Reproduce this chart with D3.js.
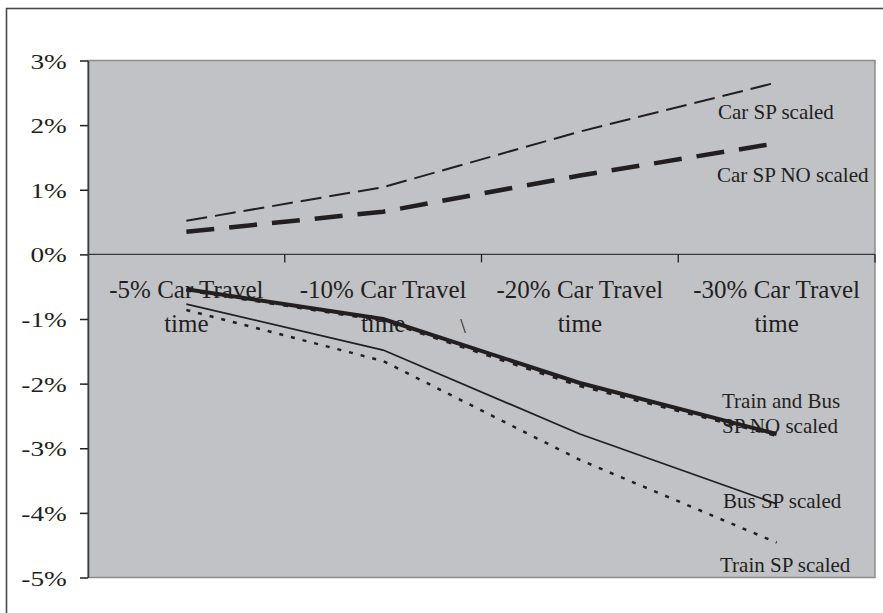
<!DOCTYPE html>
<html>
<head>
<meta charset="utf-8">
<script src="https://cdn.jsdelivr.net/npm/d3@7"></script>
<style>
  body { margin: 0; background: #fff; }
  text { font-family: "Liberation Serif", "Times New Roman", serif; fill: #231f20; }
</style>
</head>
<body>
<div id="chart"></div>
<script>
// Data (values in %)
const categories = ['-5% Car Travel time', '-10% Car Travel time', '-20% Car Travel time', '-30% Car Travel time']
const yTicks = [3, 2, 1, 0, -1, -2, -3, -4, -5]

const carSpScaled = [0.52, 1.04, 1.9, 2.66]
const carSpNoScaled = [0.35, 0.66, 1.22, 1.72]
const trainSpNoScaled = [-0.54, -1.0, -1.99, -2.78]
const busSpNoScaled = [-0.55, -1.02, -2.03, -2.8]
const busSpScaled = [-0.77, -1.48, -2.78, -3.86]
const trainSpScaled = [-0.86, -1.65, -3.18, -4.46]

const seriesNames = ['Car SP scaled', 'Car SP NO scaled', 'Train SP NO scaled', 'Bus SP NO scaled', 'Bus SP scaled', 'Train SP scaled']
const seriesValues = [carSpScaled, carSpNoScaled, trainSpNoScaled, busSpNoScaled, busSpScaled, trainSpScaled]

// Line styles per series
const lineStyles = [
  { width: 2, dash: '21,8' },
  { width: 4.5, dash: '28,15' },
  { width: 4, dash: null },
  { width: 3.5, dash: '5,9' },
  { width: 1.8, dash: null },
  { width: 2.5, dash: '4,8' }
]

// Labels placed at the right end of the lines
const seriesLabels = [
  { lines: ['Car SP scaled'], x: 718, y: 119 },
  { lines: ['Car SP NO scaled'], x: 717, y: 182 },
  { lines: ['Train and Bus', 'SP NO scaled'], x: 722, y: 408 },
  { lines: ['Bus SP scaled'], x: 723, y: 508 },
  { lines: ['Train SP scaled'], x: 720, y: 572 }
]

const width = 883
const height = 613
const plot = { left: 88, right: 875, top: 60.5, bottom: 577.5 }

const svg = d3.select('#chart')
  .append('svg')
    .attr('width', width)
    .attr('height', height)

// Outer frame
svg.append('rect')
  .attr('x', 6.5)
  .attr('y', 8.5)
  .attr('width', 900)
  .attr('height', 640)
  .attr('fill', '#fff')
  .attr('stroke', '#4a4a4a')
  .attr('stroke-width', 1.6)

const x = d3.scaleBand()
  .domain(categories)
  .range([plot.left, plot.right])

const y = d3.scaleLinear()
  .domain([-5, 3])
  .range([plot.bottom, plot.top])

// Plot background
svg.append('rect')
  .attr('x', plot.left)
  .attr('y', plot.top)
  .attr('width', plot.right - plot.left)
  .attr('height', plot.bottom - plot.top)
  .attr('fill', '#c1c2c6')
  .attr('stroke', '#8c8c8c')
  .attr('stroke-width', 1.5)

// Y axis
const yAxis = svg.append('g')
  .attr('transform', 'translate(' + plot.left + ',0)')
  .call(d3.axisLeft(y).tickValues(yTicks).tickSize(8).tickSizeOuter(0).tickFormat(d => d + '%'))

yAxis.select('.domain').attr('stroke', '#3a3a3a').attr('stroke-width', 1.5)
yAxis.selectAll('.tick line').attr('stroke', '#231f20').attr('stroke-width', 1.5)
yAxis.selectAll('.tick text')
  .attr('font-size', 21)
  .attr('x', -16.3)
  .attr('dy', '0.36em')
  .attr('transform', 'scale(1.3,1)')
  .attr('fill', '#231f20')

// Zero line with category ticks
const xAxis = svg.append('g')
  .attr('transform', 'translate(0,' + y(0) + ')')

xAxis.append('line')
  .attr('x1', plot.left)
  .attr('x2', plot.right)
  .attr('stroke', '#3a3a3a')
  .attr('stroke-width', 1.3)

xAxis.selectAll('.cat-tick')
  .data(categories.slice(1).map(c => x(c)).concat([plot.right]))
  .enter()
  .append('line')
    .attr('class', 'cat-tick')
    .attr('x1', d => d)
    .attr('x2', d => d)
    .attr('y1', 0)
    .attr('y2', 8)
    .attr('stroke', '#231f20')
    .attr('stroke-width', 1.3)

// Category labels (two lines each)
const catLabels = svg.selectAll('.cat-label')
  .data(categories)
  .enter()
  .append('text')
    .attr('class', 'cat-label')
    .attr('text-anchor', 'middle')
    .attr('font-size', 25)

catLabels.append('tspan')
  .attr('x', d => x(d) + x.bandwidth() / 2)
  .attr('y', 298)
  .text(d => d.slice(0, d.lastIndexOf(' ')))

catLabels.append('tspan')
  .attr('x', d => x(d) + x.bandwidth() / 2)
  .attr('y', 332)
  .text(d => d.slice(d.lastIndexOf(' ') + 1))

// Stray mark in the original
svg.append('text')
  .attr('x', 463)
  .attr('y', 333)
  .attr('text-anchor', 'middle')
  .attr('font-size', 20)
  .text('\\')

// Series labels
seriesLabels.forEach(lab => {
  const t = svg.append('text')
    .attr('font-size', 21)
  lab.lines.forEach((ln, i) => {
    t.append('tspan')
      .attr('x', lab.x)
      .attr('y', lab.y + i * 25)
      .text(ln)
  })
})

// Lines
const line = d3.line()
  .x((d, i) => x(categories[i]) + x.bandwidth() / 2)
  .y(d => y(d))

const drawOrder = [0, 1, 3, 2, 4, 5]
drawOrder.forEach(k => {
  svg.append('path')
    .datum(seriesValues[k])
    .attr('class', 'series')
    .attr('data-name', seriesNames[k])
    .attr('d', line)
    .attr('fill', 'none')
    .attr('stroke', '#231f20')
    .attr('stroke-width', lineStyles[k].width)
    .attr('stroke-dasharray', lineStyles[k].dash)
})
</script>
</body>
</html>
